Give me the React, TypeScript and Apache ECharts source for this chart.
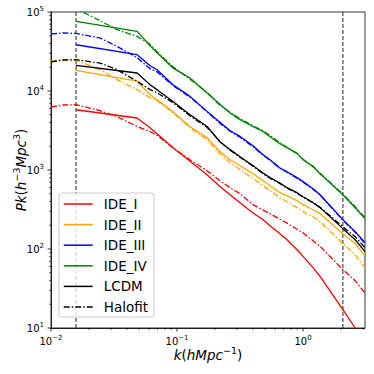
import React, { useEffect, useRef } from 'react';
import * as echarts from 'echarts';

// wavenumber grids (h/Mpc)
const kSolid = [0.0158, 0.0482, 0.0611, 0.0694, 0.0929, 0.1268, 0.173, 0.219, 0.2636, 0.316, 0.401, 0.482, 0.547, 0.656, 0.746, 0.896, 1.0, 1.2, 1.364, 2.07, 2.59, 3.1];
const kHalofit = [0.01, 0.01245, 0.0158, 0.0245, 0.0334, 0.0482, 0.0611, 0.0694, 0.0929, 0.1268, 0.173, 0.219, 0.2636, 0.316, 0.401, 0.482, 0.547, 0.656, 0.746, 0.896, 1.0, 1.2, 1.364, 2.07, 2.59, 3.1];

// simulation spectra (solid)
const pIDE_I = [5790, 4550, 3430, 2880, 1910, 1290, 873, 620, 486, 385, 286, 235, 197, 156, 131, 98, 80.6, 58, 45, 17.1, 10, 6.5];
const pIDE_II = [18200, 13300, 8980, 7760, 5470, 3530, 2570, 1710, 1350, 1130, 897, 733, 633, 516, 473, 408, 364, 314, 280, 156, 117, 82];
const pIDE_III = [38500, 28800, 20900, 18600, 12000, 8550, 5520, 4030, 3140, 2660, 2030, 1560, 1350, 1060, 951, 800, 712, 580, 486, 235, 166, 120];
const pIDE_IV = [76100, 56800, 37400, 30500, 19500, 14600, 9440, 6810, 5270, 4340, 3530, 3080, 2640, 2150, 1920, 1610, 1350, 1100, 897, 486, 333, 242];
const pLCDM = [21100, 16900, 12000, 10400, 7380, 5010, 3560, 2280, 1810, 1470, 1130, 916, 800, 684, 597, 516, 459, 386, 334, 181, 131, 92.5];

// halofit spectra (dash-dot)
const hIDE_I = [6270, 6650, 6710, 5640, 4730, 3560, 3050, 2760, 1910, 1350, 979, 733, 597, 501, 364, 310, 280, 238, 213, 178, 160, 127, 108, 54.7, 39.7, 27.7];
const hIDE_II = [23800, 24900, 24500, 18600, 13900, 10400, 8220, 7520, 5310, 3430, 2420, 1610, 1240, 1010, 776, 633, 547, 446, 397, 334, 297, 256, 222, 117, 84.7, 58];
const hIDE_III = [52700, 54200, 53600, 46900, 36700, 26400, 19100, 17500, 11700, 8350, 5470, 3910, 3100, 2600, 1970, 1540, 1330, 1050, 938, 787, 701, 571, 480, 232, 163, 118];
const hIDE_IV = [132000, 123000, 110000, 77600, 59700, 49100, 39100, 31400, 20300, 14100, 9670, 6610, 5390, 4460, 3640, 3140, 2720, 2220, 1940, 1630, 1370, 1120, 910, 494, 344, 249];
const hLCDM = [23300, 24700, 24900, 22600, 18600, 13300, 10400, 9510, 7110, 4850, 3480, 2280, 1780, 1450, 1120, 897, 787, 671, 589, 508, 453, 385, 338, 191, 143, 104];

// vertical reference lines (k limits)
const kLimits = [0.0158, 2.07];

const legendNames = ['IDE_I', 'IDE_II', 'IDE_III', 'IDE_IV', 'LCDM', 'Halofit'];

const X_MIN = 0.01;
const X_MAX = 3.1;
const Y_MIN = 10;
const Y_MAX = 100000;

const FONT = 'DejaVu Sans';
const DASHDOT = [6, 2, 1.5, 2];

function expLabel(v: number) {
  const l = Math.log10(v);
  const e = Math.round(l);
  if (Math.abs(l - e) > 1e-6) return '';
  return `{b|10}{s|${e < 0 ? '\u2212' + -e : e}}`;
}

function logTicks(lo: number, hi: number) {
  const out: number[][] = [];
  for (let d = Math.floor(Math.log10(lo)); d <= Math.ceil(Math.log10(hi)); d++) {
    for (let m = 1; m <= 9; m++) {
      const v = m * Math.pow(10, d);
      if (v >= lo * 0.9999 && v <= hi * 1.0001) out.push([v, m === 1 ? 1 : 0]);
    }
  }
  return out;
}

function line(name: string, color: string, ks: number[], ps: number[], dash: boolean) {
  return {
    type: 'line',
    name,
    data: ks.map((k, i) => [k, ps[i]]),
    symbol: 'none',
    showSymbol: false,
    clip: true,
    silent: true,
    lineStyle: { color, width: 1.3, type: dash ? DASHDOT : 'solid' },
    itemStyle: { color },
    z: 3,
  };
}

export default function App() {
  const ref = useRef<HTMLDivElement>(null);
  useEffect(() => {
    if (!ref.current) return;
    const chart = echarts.init(ref.current, undefined, { renderer: 'svg' });
    const xt = logTicks(X_MIN, X_MAX).map(([v, m]) => [v, Y_MIN, m]);
    const yt = logTicks(Y_MIN, Y_MAX).map(([v, m]) => [X_MIN, v, m]);
    const labelRich = {
      b: { fontFamily: FONT, fontSize: 10, color: '#000' },
      s: { fontFamily: FONT, fontSize: 7, color: '#000', padding: [0, 0, 7, 0] },
    };
    const nameRich = {
      i: { fontFamily: FONT, fontSize: 13.5, fontStyle: 'italic', color: '#000' },
      r: { fontFamily: FONT, fontSize: 13.5, color: '#000' },
      s: { fontFamily: FONT, fontSize: 9.5, color: '#000', padding: [0, 0, 9, 0] },
    };
    const limitSeries = kLimits.map((k, i) => ({
      type: 'line',
      name: 'limit' + i,
      data: [[k, Y_MIN], [k, Y_MAX]],
      symbol: 'none',
      showSymbol: false,
      silent: true,
      clip: false,
      lineStyle: { color: '#222', width: 1, type: [4, 2] },
      z: 2,
    }));
    const option: any = {
      animation: false,
      backgroundColor: '#fff',
      grid: {
        left: 51, right: 9, top: 12, bottom: 46, containLabel: false, outerBoundsMode: 'none',
        show: true, borderColor: '#000', borderWidth: 0.8, backgroundColor: 'transparent',
      },
      xAxis: {
        type: 'log', logBase: 10, min: X_MIN, max: X_MAX,
        axisLine: { show: true, lineStyle: { color: '#000', width: 0.8 } },
        axisTick: { show: false }, splitLine: { show: false },
        axisLabel: { formatter: expLabel, margin: 6, rich: labelRich, showMaxLabel: false },
        name: '{i|k}{r|(}{i|hMpc}{s|\u22121}{r|)}',
        nameLocation: 'middle', nameGap: 17, nameMoveOverlap: false,
        nameTextStyle: { rich: nameRich },
      },
      yAxis: {
        type: 'log', logBase: 10, min: Y_MIN, max: Y_MAX,
        axisLine: { show: true, lineStyle: { color: '#000', width: 0.8 } },
        axisTick: { show: false }, splitLine: { show: false },
        axisLabel: { formatter: expLabel, margin: 7, rich: labelRich },
        name: '{i|Pk}{r|(}{i|h}{s|\u22123}{i|Mpc}{s|3}{r|)}',
        nameLocation: 'middle', nameGap: 21, nameRotate: 90, nameMoveOverlap: false,
        nameTextStyle: { rich: nameRich },
      },
      legend: {
        orient: 'vertical', left: 59, top: 193,
        itemWidth: 29, itemHeight: 14, itemGap: 6.6,
        padding: [4, 6, 3, 4],
        backgroundColor: 'rgba(255,255,255,0.8)', borderColor: '#cccccc', borderWidth: 1, borderRadius: 3,
        textStyle: { fontFamily: FONT, fontSize: 13.5, color: '#000', padding: [0, 0, 0, 6] },
        itemStyle: { opacity: 0, borderWidth: 0 },
        lineStyle: { width: 1.5 },
        data: legendNames,
        selectedMode: false,
      },
      series: [
        ...limitSeries,
        line('IDE_I', '#ff0000', kSolid, pIDE_I, false),
        line('IDE_I halofit', '#ff0000', kHalofit, hIDE_I, true),
        line('IDE_II', '#ffa500', kSolid, pIDE_II, false),
        line('IDE_II halofit', '#ffa500', kHalofit, hIDE_II, true),
        line('IDE_III', '#0000ff', kSolid, pIDE_III, false),
        line('IDE_III halofit', '#0000ff', kHalofit, hIDE_III, true),
        line('IDE_IV', '#008000', kSolid, pIDE_IV, false),
        line('IDE_IV halofit', '#008000', kHalofit, hIDE_IV, true),
        line('LCDM', '#000000', kSolid, pLCDM, false),
        line('Halofit', '#000000', kHalofit, hLCDM, true),
        {
          type: 'custom', silent: true, clip: false, z: 5,
          encode: { x: 0, y: 1 },
          data: xt,
          renderItem: (_p: any, api: any) => {
            const p = api.coord([api.value(0), api.value(1)]);
            const major = api.value(2) === 1;
            return { type: 'line', shape: { x1: p[0], y1: p[1], x2: p[0], y2: p[1] + (major ? 3.5 : 2) }, style: { stroke: '#000', lineWidth: major ? 0.8 : 0.6 } };
          },
        },
        {
          type: 'custom', silent: true, clip: false, z: 5,
          encode: { x: 0, y: 1 },
          data: yt,
          renderItem: (_p: any, api: any) => {
            const p = api.coord([api.value(0), api.value(1)]);
            const major = api.value(2) === 1;
            return { type: 'line', shape: { x1: p[0] - (major ? 3.5 : 2), y1: p[1], x2: p[0], y2: p[1] }, style: { stroke: '#000', lineWidth: major ? 0.8 : 0.6 } };
          },
        },
      ],
    };
    chart.setOption(option);
    return () => chart.dispose();
  }, []);
  return <div ref={ref} style={{ position: 'fixed', left: 0, top: 0, width: 374, height: 374 }} />;
}
